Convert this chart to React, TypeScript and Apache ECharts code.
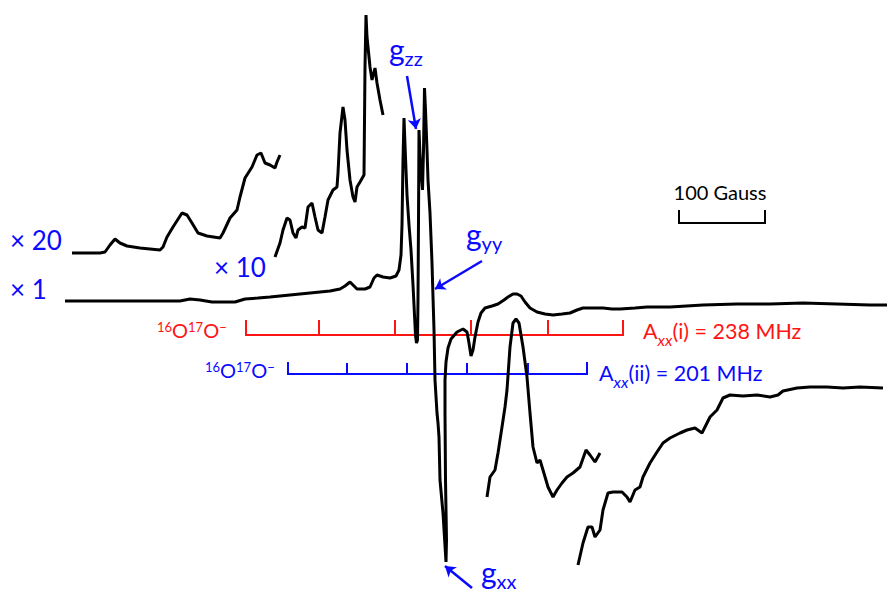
import React, { useEffect, useRef } from "react";
import * as echarts from "echarts";

// Spectrum traces: [field (arb. units), signal (arb. units, plotted downward)]
const traceX1: number[][] = [
  [65, 301], [120, 301], [180, 301], [190, 299], [200, 300], [212, 302], [235, 302], [245, 299],
  [258, 298], [270, 297], [290, 295], [310, 293], [330, 291], [340, 289], [345, 286], [350, 282],
  [354, 286], [357, 289], [365, 289], [370, 287], [374, 278], [377, 275], [383, 277], [390, 278],
  [396, 276], [399, 270], [401, 255], [402, 225], [403, 160], [404, 118], [405, 145], [407, 195],
  [409, 225], [411, 250], [413, 285], [414.5, 315], [415.5, 335], [416.5, 343], [417.5, 340],
  [418, 300], [418.5, 220], [419, 130], [420, 155], [421, 172], [422.5, 190], [423.5, 150],
  [424.5, 88], [425.5, 110], [427, 150], [428, 180], [430, 213], [432, 263], [433, 297],
  [434, 330], [435, 380], [437, 413], [438, 423], [439, 437], [440, 480], [443, 513], [446, 562],
  [446.5, 540], [445.5, 480], [445, 413], [445, 380], [446, 362], [448, 348], [451, 339],
  [457, 332], [463, 329], [467, 332], [469, 343], [471, 356], [473, 350], [475, 337], [478, 322],
  [481, 313], [485, 308], [492, 306], [498, 304], [504, 300], [508, 297], [513, 294], [517, 294],
  [521, 296], [525, 302], [530, 308], [537, 312], [545, 314], [553, 315], [562, 314], [570, 313],
  [577, 310], [583, 308], [595, 308], [603, 308], [612, 309], [620, 309], [635, 308], [647, 307],
  [670, 307], [703, 305], [737, 304], [770, 304], [803, 303], [837, 304], [870, 305], [887, 305],
];

const traceX20: number[][] = [
  [72, 253], [87, 253], [100, 253], [105, 252], [110, 245], [115, 239], [120, 243], [127, 246],
  [140, 248], [160, 250], [163, 247], [167, 237], [173, 227], [182, 213], [187, 215], [192, 223],
  [198, 233], [207, 236], [220, 238], [223, 233], [230, 218], [237, 210], [240, 197], [245, 178],
  [252, 167], [257, 155], [261, 153], [265, 163], [270, 165], [275, 168], [277, 162], [280, 155],
];

const traceX10: number[][] = [
  [275, 257], [280, 243], [283, 230], [287, 218], [290, 220], [293, 233], [296, 238], [298, 230],
  [302, 227], [305, 228], [308, 207], [312, 203], [315, 217], [318, 230], [322, 233], [325, 217],
  [328, 200], [333, 190], [337, 187], [338, 173], [340, 133], [343, 107], [345, 120], [347, 150],
  [350, 180], [353, 197], [355, 202], [357, 187], [360, 182], [364, 175], [365, 67], [366, 15],
  [367, 37], [370, 67], [372, 80], [375, 68], [377, 83], [380, 100], [383, 115],
];

const traceLowA: number[][] = [
  [487, 497], [490, 477], [495, 470], [498, 453], [502, 427], [505, 407], [507, 390], [510, 347],
  [513, 323], [516, 319], [519, 323], [523, 347], [527, 377], [530, 413], [533, 447], [537, 463],
  [540, 460], [543, 470], [548, 487], [553, 497], [557, 490], [562, 483], [567, 477], [573, 473],
  [580, 467], [586, 450], [590, 455], [595, 462], [600, 453],
];

const traceLowB: number[][] = [
  [578, 565], [583, 543], [588, 527], [592, 527], [595, 537], [600, 530], [603, 510], [608, 493],
  [613, 492], [622, 492], [627, 497], [630, 502], [635, 490], [640, 487], [643, 477], [650, 463],
  [657, 452], [663, 443], [670, 438], [680, 433], [687, 430], [695, 428], [702, 433], [707, 423],
  [710, 417], [717, 410], [723, 398], [730, 395], [743, 396], [757, 395], [770, 397], [778, 395],
  [783, 391], [797, 388], [810, 387], [827, 387], [843, 388], [860, 387], [883, 388],
];

// Hyperfine stick diagrams (field positions of the lines)
const redTicks = [246, 319, 395, 471, 548, 623];
const redLevel = 335;
const blueTicks = [288, 347, 407, 467, 528, 587];
const blueLevel = 374;

// 100 Gauss scale bar
const scaleBar = [679, 765];
const scaleLevel = 223;

// Annotation arrows [from, to]
const arrowGzz = [[407, 76], [416, 129]];
const arrowGyy = [[482, 261], [435, 289]];
const arrowGxx = [[472, 588], [445, 566]];

const BLUE = "#0a0aff";
const RED = "#ff1414";
const FONT = "Lato, 'Open Sans', sans-serif";

function stickSegments(ticks: number[], level: number, endH: number, innerH: number) {
  const first = ticks[0];
  const last = ticks[ticks.length - 1];
  const segs: any[] = [
    { coords: [[first, level - endH], [first, level], [last, level], [last, level - endH]] },
  ];
  ticks.slice(1, -1).forEach((t) => {
    segs.push({ coords: [[t, level - innerH], [t, level]] });
  });
  return segs;
}

export default function App() {
  const ref = useRef<HTMLDivElement>(null);
  useEffect(() => {
    if (!ref.current) return;
    const chart = echarts.init(ref.current, undefined, { renderer: "svg" });
    const traceStyle = { color: "#000", width: 3 };
    const traceSeries = (data: number[][]) => ({
      type: "line",
      data,
      symbol: "none",
      showSymbol: false,
      silent: true,
      lineStyle: traceStyle,
      z: 3,
    });

    const gRich = {
      g: { fontSize: 30, lineHeight: 30, fontFamily: FONT, verticalAlign: "top" },
      s: { fontSize: 20, lineHeight: 20, fontFamily: FONT, verticalAlign: "top", padding: [14, 0, 0, 0] },
    };
    const oRich = {
      m: { fontSize: 20, lineHeight: 20, fontFamily: FONT, verticalAlign: "top" },
      sup: { fontSize: 13, lineHeight: 13, fontFamily: FONT, verticalAlign: "top" },
    };
    const aRich = {
      a: { fontSize: 21.5, lineHeight: 22, fontFamily: FONT, verticalAlign: "top" },
      s: { fontSize: 16, lineHeight: 16, fontFamily: FONT, fontStyle: "italic", verticalAlign: "top", padding: [11, 0, 0, 0] },
    };

    chart.setOption({
      animation: false,
      backgroundColor: "#fff",
      grid: { left: 0, right: 0, top: 0, bottom: 0, containLabel: false },
      xAxis: { type: "value", min: 0, max: 887, show: false },
      yAxis: { type: "value", min: 0, max: 594, inverse: true, show: false },
      series: [
        traceSeries(traceX1),
        traceSeries(traceX20),
        traceSeries(traceX10),
        traceSeries(traceLowA),
        traceSeries(traceLowB),
        {
          type: "lines",
          coordinateSystem: "cartesian2d",
          polyline: true,
          silent: true,
          lineStyle: { color: RED, width: 2, opacity: 1 },
          data: stickSegments(redTicks, redLevel, 15, 15),
          z: 2,
        },
        {
          type: "lines",
          coordinateSystem: "cartesian2d",
          polyline: true,
          silent: true,
          lineStyle: { color: BLUE, width: 2, opacity: 1 },
          data: stickSegments(blueTicks, blueLevel, 12, 11),
          z: 2,
        },
        {
          type: "lines",
          coordinateSystem: "cartesian2d",
          polyline: true,
          silent: true,
          lineStyle: { color: "#000", width: 2, opacity: 1 },
          data: [
            { coords: [[scaleBar[0], scaleLevel - 13], [scaleBar[0], scaleLevel], [scaleBar[1], scaleLevel], [scaleBar[1], scaleLevel - 13]] },
          ],
          z: 2,
        },
        {
          type: "lines",
          coordinateSystem: "cartesian2d",
          silent: true,
          symbol: ["none", "arrow"],
          symbolSize: 10,
          lineStyle: { color: BLUE, width: 2.5, opacity: 1 },
          data: [{ coords: arrowGzz }, { coords: arrowGyy }, { coords: arrowGxx }],
          z: 4,
        },
      ],
      graphic: [
        { type: "text", x: 10, y: 240, style: { text: "× 20", fill: BLUE, fontSize: 26, fontFamily: FONT, verticalAlign: "middle" } },
        { type: "text", x: 10, y: 289, style: { text: "× 1", fill: BLUE, fontSize: 26, fontFamily: FONT, verticalAlign: "middle" } },
        { type: "text", x: 214, y: 267, style: { text: "× 10", fill: BLUE, fontSize: 26, fontFamily: FONT, verticalAlign: "middle" } },
        { type: "text", x: 720, y: 192, style: { text: "100 Gauss", fill: "#000", fontSize: 20, fontFamily: FONT, align: "center", verticalAlign: "middle" } },
        { type: "text", x: 389, y: 34, style: { text: "{g|g}{s|zz}", rich: gRich, fill: BLUE, verticalAlign: "top" } },
        { type: "text", x: 466, y: 219, style: { text: "{g|g}{s|yy}", rich: gRich, fill: BLUE, verticalAlign: "top" } },
        { type: "text", x: 481, y: 557, style: { text: "{g|g}{s|xx}", rich: gRich, fill: BLUE, verticalAlign: "top" } },
        { type: "text", x: 157, y: 320, style: { text: "{sup|16}{m|O}{sup|17}{m|O}{sup|−}", rich: oRich, fill: RED, verticalAlign: "top" } },
        { type: "text", x: 205, y: 360, style: { text: "{sup|16}{m|O}{sup|17}{m|O}{sup|−}", rich: oRich, fill: BLUE, verticalAlign: "top" } },
        { type: "text", x: 643, y: 320, style: { text: "{a|A}{s|xx}{a|(i) = 238 MHz}", rich: aRich, fill: RED, verticalAlign: "top" } },
        { type: "text", x: 599, y: 362, style: { text: "{a|A}{s|xx}{a|(ii) = 201 MHz}", rich: aRich, fill: BLUE, verticalAlign: "top" } },
      ],
    });
    return () => chart.dispose();
  }, []);
  return (
    <div
      ref={ref}
      style={{ position: "absolute", left: 0, top: 0, width: 887, height: 594, background: "#fff" }}
    />
  );
}
